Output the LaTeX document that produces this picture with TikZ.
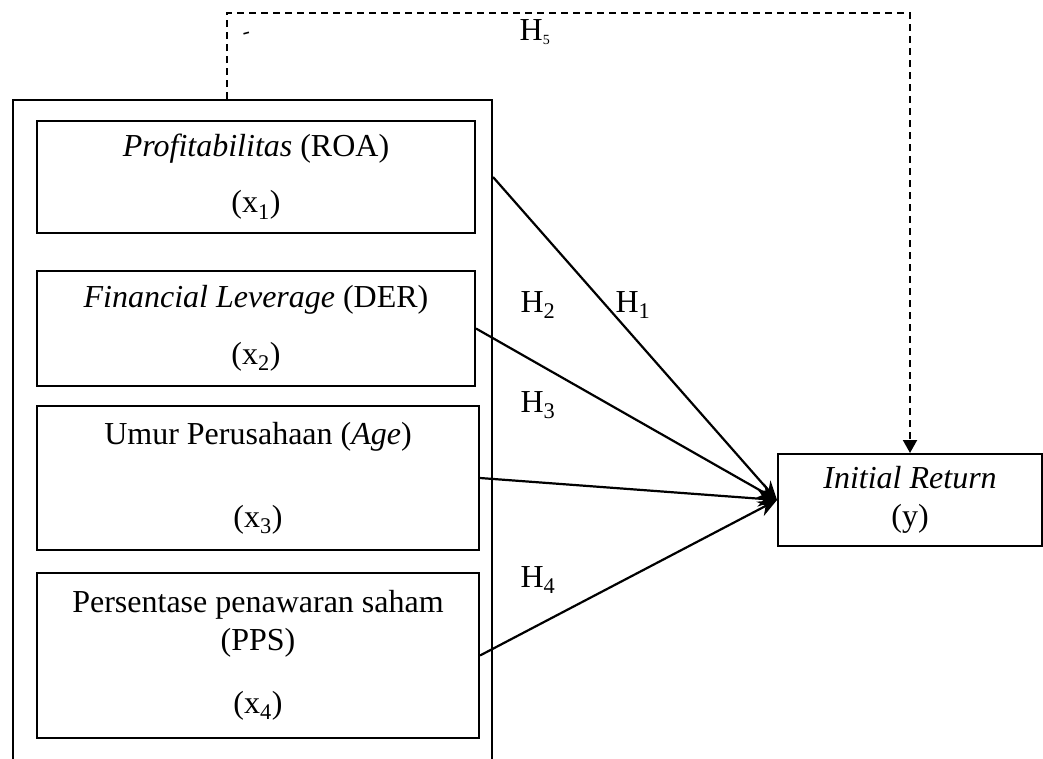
\documentclass[tikz,border=0pt]{standalone}
\usepackage{fontspec}
\setmainfont{Liberation Serif}
\usetikzlibrary{positioning,arrows.meta}

\begin{document}
\begin{tikzpicture}[
  x=1pt, y=-1pt,
  font=\fontsize{32pt}{38pt}\selectfont,
  varnode/.style={rectangle, draw=black, line width=2pt, align=center, inner sep=0pt, minimum width=438pt},
  hlabel/.style={inner sep=0pt},
  linkline/.style={dash pattern=on 7pt off 5pt, line width=2pt, -{Triangle[length=13pt,width=14pt]}},
  every edge/.style={  % arrows into the dependent variable
            draw,
            -{Stealth[length=19pt,width=16pt]},
            line width=2.2pt}
]
  \clip (0,0) rectangle (1043,758);

  % group of independent variables
  \node[varnode, minimum width=479pt, minimum height=690pt, anchor=north west] (X) at (12,99) {};

  \node[varnode, minimum height=112pt, anchor=north west] (b1) at (36,120)
    {\textit{Profitabilitas} (ROA)\\[18pt](x\textsubscript{1})};
  \node[varnode, minimum height=115pt] (b2) [below=36pt of b1.south west, anchor=north west]
    {\textit{Financial Leverage} (DER)\\[19pt](x\textsubscript{2})};
  \node[varnode, minimum width=442pt, minimum height=144pt] (b3) [below=18pt of b2.south west, anchor=north west]
    {Umur Perusahaan (\textit{Age})\\[45pt](x\textsubscript{3})};
  \node[varnode, minimum width=442pt, minimum height=165pt] (b4) [below=21pt of b3.south west, anchor=north west]
    {Persentase penawaran saham\\(PPS)\\[25pt](x\textsubscript{4})};

  \node[varnode, minimum width=264pt, minimum height=92pt, anchor=north west] (IR) at (777,453)
    {\textit{Initial Return}\\(y)};

  \draw (b1.east -| X.east) edge (IR.west);
  \draw (b2.east) edge (IR.west);
  \draw (b3.east) edge (IR.west);
  \draw (b4.east) edge (IR.west);

  \node[hlabel] (h1) at (633,305) {H\textsubscript{1}};
  \node[hlabel] (h2) at (538,305) {H\textsubscript{2}};
  \node[hlabel] (h3) at (538,405) {H\textsubscript{3}};
  \node[hlabel] (h4) at (538,580) {H\textsubscript{4}};

  % simultaneous effect
  \coordinate (d0) at (227,99);
  \coordinate (d1) at (227,13);
  \draw[linkline] (d0) -- (d1) -| (IR.north);
  \node[hlabel] (h5) at (535,32) {H\textsubscript{\fontsize{14pt}{14pt}\selectfont 5}};
  \node[hlabel, font=\fontsize{22pt}{22pt}\selectfont, rotate=15] (m) at (247,36) {-};
\end{tikzpicture}
\end{document}
